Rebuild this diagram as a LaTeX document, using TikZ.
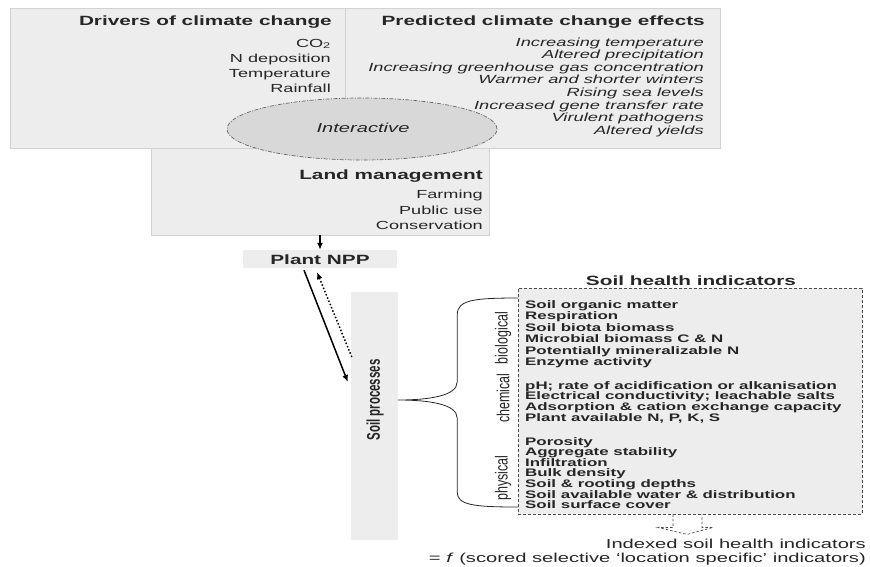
\documentclass[tikz,border=0pt]{standalone}
\usepackage{graphicx}
\usepackage{fontspec}
\setmainfont{Liberation Sans}[FakeStretch=1.55]
\newfontfamily\uprightsans{Liberation Sans}
\usetikzlibrary{arrows.meta, positioning, calc, shapes.geometric}
\definecolor{panelgray}{HTML}{EDEDED}
\definecolor{panelline}{HTML}{D2D2D2}
\definecolor{ovalgray}{HTML}{D8D8D8}
\definecolor{inkdark}{HTML}{262626}
\definecolor{dashdark}{HTML}{4A4A4A}

\begin{document}
\begin{tikzpicture}[x=1pt, y=-1pt,
  panel/.style={draw=panelline, fill=panelgray, line width=0.6pt, inner sep=0pt},
  headline/.style={font=\fontsize{13.4}{14}\selectfont\bfseries, text=inkdark, inner sep=0pt},
  driveritem/.style={font=\fontsize{11.7}{12}\selectfont, text=inkdark, anchor=base east, inner sep=0pt},
  effectitem/.style={font=\fontsize{11.8}{12}\selectfont\itshape, text=inkdark, anchor=base east, inner sep=0pt},
  indicatoritem/.style={font=\fontsize{10.9}{11}\selectfont\bfseries, text=inkdark, anchor=base west, inner sep=0pt},
  grouplabel/.style={font=\uprightsans\fontsize{12.5}{13}\selectfont, text=inkdark, rotate=90, inner sep=0pt},
  flowarrow/.style={-{Latex[length=7pt,width=6pt]}, line width=1.5pt, black}
]
  \useasboundingbox (0,0) rectangle (870,566);

  % Upper panels: drivers, predicted effects and land management
  \node[panel, minimum width=335, minimum height=140] (drivers) at (177.5,78) {};
  \node[panel, minimum width=375, minimum height=140] (effects) at (532.5,78) {};
  \node[panel, minimum width=338, minimum height=87] (landmgmt) at (320,191.5) {};

  % Interactive oval overlapping the three panels
  \node[ellipse, fill=ovalgray, draw=gray!80!black, line width=0.7pt,
        dash pattern=on 4pt off 1.5pt on 1pt off 1.5pt,
        minimum width=270, minimum height=62, inner sep=0pt] (interact) at (362,129) {};
  \node[font=\fontsize{13}{13}\selectfont\itshape, text=inkdark, anchor=base, inner sep=0pt] (interactlabel) at (363,132) {Interactive};

  % Drivers of climate change
  \node[headline, anchor=base east] (drivershead) at (332,25) {Drivers of climate change};
  \foreach \txt [count=\i] in {CO\textsubscript{2}, N deposition, Temperature, Rainfall}
    \node[driveritem] (drv-\i) at (331, 31.7+\i*15.3) {\txt};

  % Predicted climate change effects
  \node[headline, anchor=base east] (effectshead) at (705,25) {Predicted climate change effects};
  \foreach \txt [count=\i] in {Increasing temperature, Altered precipitation,
      Increasing greenhouse gas concentration, Warmer and shorter winters,
      Rising sea levels, Increased gene transfer rate, Virulent pathogens, Altered yields}
    \node[effectitem] (eff-\i) at (704, 33.4+\i*12.6) {\txt};

  % Land management
  \node[headline, anchor=base east] (landhead) at (483,179) {Land management};
  \foreach \txt [count=\i] in {Farming, Public use, Conservation}
    \node[driveritem] (land-\i) at (483, 183+\i*15.5) {\txt};

  % Plant NPP and soil processes
  \node[fill=panelgray, minimum width=154, minimum height=18, inner sep=0pt] (npp) at (320,259) {};
  \node[headline, anchor=base] (npplabel) at (320,264) {Plant NPP};
  \node[fill=panelgray, minimum width=47, minimum height=248, inner sep=0pt] (soilproc) at (374.5,416) {};
  \node[font=\uprightsans\fontsize{11.5}{12}\selectfont\bfseries, text=inkdark, rotate=90, inner sep=0pt] (soillabel) at (375,400) {\scalebox{1}[1.6]{Soil processes}};

  \draw[flowarrow] (landmgmt.south) -- (npp.north);
  \draw[flowarrow] ($(npp.south)+(-16,2)$) -- ($(soilproc.west)+(-3,-34)$);
  \draw[flowarrow, dotted] ($(soilproc.west)+(1,-59)$) -- ($(npp.south)+(-3,4)$);

  % Soil health indicators
  \node[fill=panelgray, draw=dashdark, line width=0.8pt, dash pattern=on 3pt off 2pt,
        minimum width=344, minimum height=226, inner sep=0pt] (indicators) at (690,401) {};
  \node[headline, anchor=base] (indicatorshead) at (691,285) {Soil health indicators};

  % biological
  \foreach \txt [count=\i] in {Soil organic matter, Respiration, Soil biota biomass,
      Microbial biomass C \& N, Potentially mineralizable N, Enzyme activity}
    \node[indicatoritem] (bio-\i) at (525, 296.5+\i*11.5) {\txt};
  % chemical
  \foreach \txt [count=\i] in {pH; rate of acidification or alkanisation,
      Electrical conductivity; leachable salts, Adsorption \& cation exchange capacity,
      {Plant available N, P, K, S}}
    \node[indicatoritem] (chem-\i) at (525, 378.3+\i*10.7) {\txt};
  % physical
  \foreach \txt [count=\i] in {Porosity, Aggregate stability, Infiltration, Bulk density,
      Soil \& rooting depths, Soil available water \& distribution, Soil surface cover}
    \node[indicatoritem] (phys-\i) at (525, 434.4+\i*10.6) {\txt};

  \node[grouplabel] (biolabel) at (503,338) {\scalebox{1}[1.4]{biological}};
  \node[grouplabel] (chemlabel) at (503,398) {\scalebox{1}[1.4]{chemical}};
  \node[grouplabel] (physlabel) at (503,478) {\scalebox{1}[1.4]{physical}};

  % Brace from soil processes to the indicator groups
  \coordinate (bracetip) at ($(soilproc.east)+(0,-16)$);
  \draw[line width=0.8pt, inkdark, shift={(bracetip)}]
    (120,-102) .. controls (75,-102) and (59,-100) .. (59,-85) -- (59,-18)
    .. controls (59,-4) and (30,0) .. (0,0)
    .. controls (30,0) and (59,4) .. (59,18) -- (59,92)
    .. controls (59,105) and (75,107) .. (120,107);

  % Indexed result
  \coordinate (indexarrow) at ($(indicators.south)+(-3,0)$);
  \draw[dashdark, line width=0.7pt, dash pattern=on 2.5pt off 2pt, shift={(indexarrow)}]
    (-14,0) -- (-14,13) -- (-29,13) -- (0,20) -- (26,13) -- (15,13) -- (15,0);
  \node[font=\fontsize{13}{14}\selectfont, text=inkdark, anchor=base east, inner sep=0pt] (indexline) at (866,548) {Indexed soil health indicators};
  \node[font=\fontsize{13}{14}\selectfont, text=inkdark, anchor=base east, inner sep=0pt] (formulaline) at (866,562) {= \textit{f} (scored selective ‘location specific’ indicators)};
\end{tikzpicture}
\end{document}
